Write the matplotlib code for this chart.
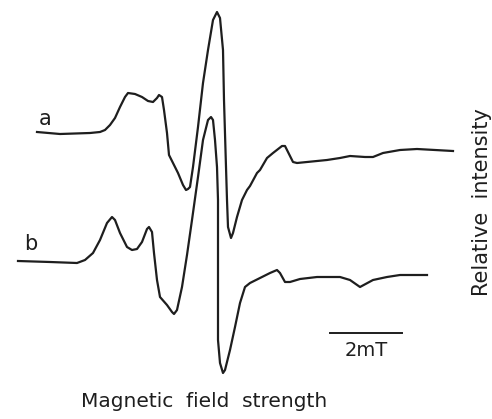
import matplotlib.pyplot as plt

# traced spectra (field position, signal), image-like units, y grows downward
field_a = [37, 60, 90, 100, 105, 110, 115, 120, 125, 128, 135, 142, 148, 153, 157, 159,
           162, 164, 167, 169, 173, 178, 183, 186, 188, 190, 193, 198, 203, 208, 213,
           217, 220, 223, 224, 226, 227, 228, 231, 233, 237, 242, 247, 250, 257, 260,
           267, 273, 282, 285, 288, 293, 297, 307, 317, 327, 340, 350, 365, 373, 383,
           400, 417, 435, 453]
sig_a = [132, 134, 133, 132, 130, 125, 118, 107, 97, 93, 94, 97, 101, 102, 98, 95,
         97, 110, 133, 155, 163, 173, 185, 190, 189, 187, 167, 127, 83, 50, 20,
         12, 18, 50, 100, 167, 200, 227, 238, 233, 217, 200, 190, 186, 173, 170,
         158, 153, 146, 146, 152, 162, 163, 162, 161, 160, 158, 156, 157, 157, 153,
         150, 149, 150, 151]

field_b = [18, 50, 77, 85, 93, 100, 107, 112, 115, 120, 127, 132, 137, 142, 147, 149,
           152, 154, 157, 160, 167, 172, 174, 177, 182, 187, 192, 198, 203, 208, 211,
           213, 215, 217, 218, 218, 218, 220, 223, 225, 230, 235, 240, 245, 250, 260,
           270, 277, 280, 285, 290, 300, 317, 340, 350, 360, 373, 387, 400, 427]
sig_b = [261, 262, 263, 260, 253, 240, 223, 217, 220, 233, 247, 250, 249, 242, 229, 227,
         232, 253, 280, 297, 305, 312, 314, 310, 287, 255, 220, 177, 140, 120, 117,
         120, 140, 167, 200, 260, 340, 363, 373, 370, 350, 327, 303, 287, 283, 278,
         273, 270, 273, 282, 282, 279, 277, 277, 280, 287, 280, 277, 275, 275]

labels = ["a", "b"]
bar_x = [330, 402]
bar_y = 333

ink = "#1e1e1e"
fig = plt.figure(figsize=(4.92, 4.19), dpi=100)
ax = fig.add_axes([0, 0, 1, 1])
ax.set_xlim(0, 492)
ax.set_ylim(419, 0)
ax.axis("off")

ax.plot(field_a, sig_a, color=ink, lw=1.6, solid_joinstyle="round")
ax.plot(field_b, sig_b, color=ink, lw=1.6, solid_joinstyle="round")

ax.text(45, 119, labels[0], fontsize=15, color=ink, ha="center", va="center")
ax.text(31, 244, labels[1], fontsize=15, color=ink, ha="center", va="center")

# 2 mT scale bar
ax.plot(bar_x, [bar_y, bar_y], color=ink, lw=1.4)
ax.text(sum(bar_x) / 2, 350, "2mT", fontsize=14, color=ink, ha="center", va="center")

ax.text(204, 401, "Magnetic  field  strength", fontsize=14.5, color=ink,
        ha="center", va="center")
ax.text(482, 202, "Relative  intensity", fontsize=15, color=ink, rotation=90,
        ha="center", va="center")

fig.savefig("out.png", dpi=100)
